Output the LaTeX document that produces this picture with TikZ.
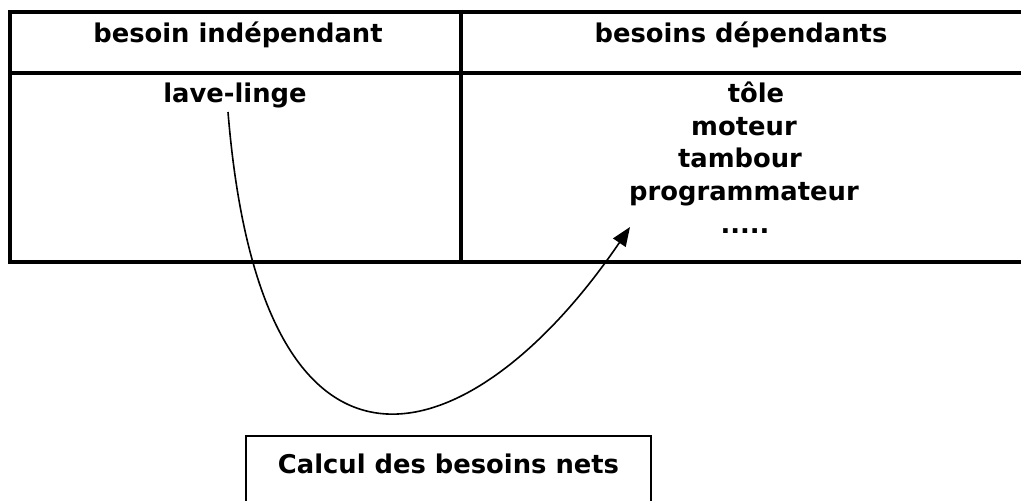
\documentclass[tikz,border=0pt]{standalone}
\usepackage{fontspec}
\setmainfont{DejaVu Sans}
\usetikzlibrary{arrows.meta}
\begin{document}
\begin{tikzpicture}[x=1pt,y=-1pt,
  tabline/.style={line width=4pt},
  boxline/.style={line width=1.4pt},
  txt/.style={font=\fontsize{25.8}{30}\selectfont\bfseries, inner sep=0pt, anchor=base},
  connector/.style={line width=1.6pt, -{Triangle[length=19pt,width=15pt]}}]
\useasboundingbox (0,0) rectangle (1021,501);
% table
\draw[tabline] (1021,11.5) -- (10,11.5) -- (10,262) -- (1021,262);
\draw[tabline] (8,72.5) -- (1021,72.5);
\draw[tabline] (460.5,9.5) -- (460.5,264);
% headers
\node[txt] (h1) at (238,42) {besoin indépendant};
\node[txt] (h2) at (741,42) {besoins dépendants};
% body
\node[txt] (ll) at (235,102) {lave-linge};
\node[txt] (d1) at (756,102) {tôle};
\node[txt] (d2) at (744,135) {moteur};
\node[txt] (d3) at (740,167) {tambour};
\node[txt] (d4) at (744,200) {programmateur};
\node[txt] (d5) at (745,233) {.....};
% bottom box
\draw[boxline] (246,505) -- (246,436) -- (651,436) -- (651,505);
\node[txt] (calc) at (448.5,473) {Calcul des besoins nets};
% connector
\coordinate (start) at (228,112);
\coordinate (tip) at (630,227);
\draw[connector] (start) .. controls (262,530) and (475,455) .. (tip);
\end{tikzpicture}
\end{document}
